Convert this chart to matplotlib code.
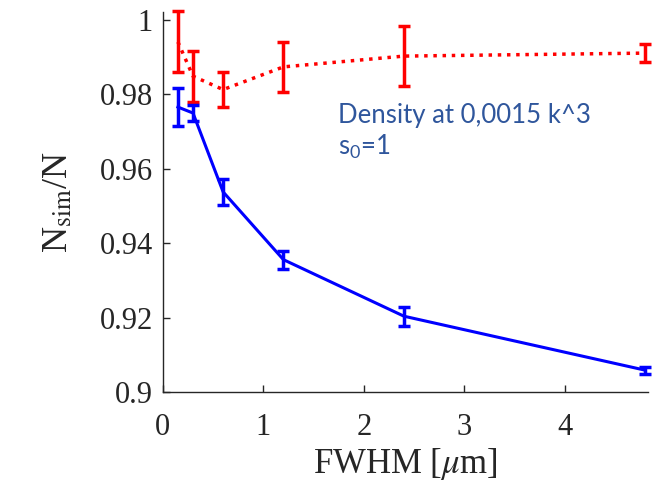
import numpy as np
import matplotlib
matplotlib.use('Agg')
import matplotlib.pyplot as plt

'DATA READ OFF THE FIGURE'

fwhm = [0.15, 0.3, 0.6, 1.2, 2.4, 4.8]  # FWHM in micrometres

# red dotted series
ratio_red = [0.9941, 0.9849, 0.9813, 0.9874, 0.9903, 0.9911]
err_red = [0.0082, 0.0069, 0.0046, 0.0067, 0.0080, 0.0024]

# blue solid series
ratio_blue = [0.9766, 0.9750, 0.9538, 0.9356, 0.9204, 0.9059]
err_blue = [0.0050, 0.0022, 0.0034, 0.0024, 0.0026, 0.0009]

yticks = [0.9, 0.92, 0.94, 0.96, 0.98, 1.0]
ytick_labels = ['0.9', '0.92', '0.94', '0.96', '0.98', '1']
xticks = [0, 1, 2, 3, 4]

'PLOTTING'

plt.rcParams['font.family'] = ['Liberation Serif', 'DejaVu Serif']
plt.rcParams['mathtext.fontset'] = 'stix'

fig = plt.figure(figsize=(6.54, 4.92), dpi=100)
ax = fig.add_axes([0.249, 0.203, 0.742, 0.773])

ax.errorbar(fwhm, ratio_red, yerr=err_red, color='#ff0000', linestyle=':',
            linewidth=2.5, elinewidth=2.5, capsize=4, capthick=2.5, clip_on=False)
ax.errorbar(fwhm, ratio_blue, yerr=err_blue, color='#0000ff', linestyle='-',
            linewidth=2.2, elinewidth=2.5, capsize=4, capthick=2.5, clip_on=False)

ax.text(1.74, 0.9723, 'Density at 0,0015 k^3', color='#2f569c', fontsize=18.5,
        family='Lato', va='baseline')
ax.text(1.74, 0.9637, r'$\mathregular{s_0}$=1', color='#2f569c', fontsize=18.5,
        family='Lato', va='baseline')

ax.set_xlim(0, 4.83)
ax.set_ylim(0.9, 1.0022)
ax.set_xticks(xticks)
ax.set_yticks(yticks)
ax.set_yticklabels(ytick_labels)

for side in ['top', 'right']:
    ax.spines[side].set_visible(False)
for side in ['left', 'bottom']:
    ax.spines[side].set_color('#262626')
    ax.spines[side].set_linewidth(1)

ax.tick_params(direction='in', length=5, width=1, color='#262626',
               labelsize=22, labelcolor='#262626')
ax.tick_params(axis='y', pad=7)
ax.tick_params(axis='x', pad=15)

ax.set_xlabel(r'FWHM [$\mu$m]', fontsize=25, color='#262626', labelpad=3)
ax.set_ylabel(r'N$_{\rm sim}$/N', fontsize=26, color='#262626', labelpad=18)

plt.savefig('out.png', dpi=100)
